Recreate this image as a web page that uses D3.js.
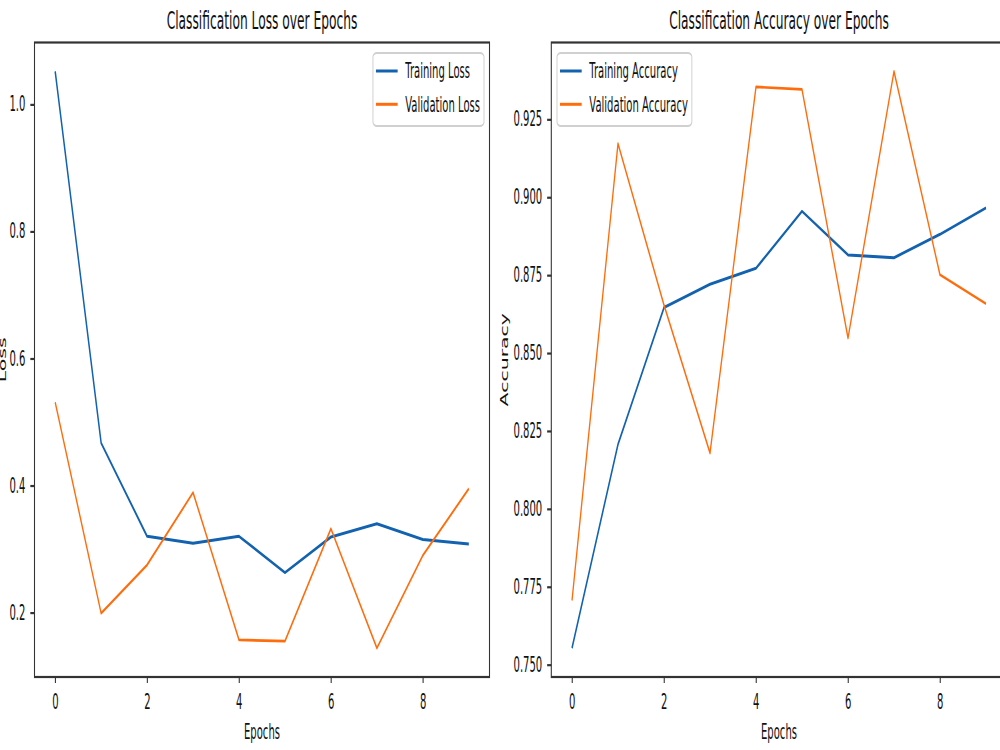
<!DOCTYPE html>
<html>
<head>
<meta charset="utf-8">
<title></title>
<script src="https://cdn.jsdelivr.net/npm/d3@7"></script>
<style>
  body { margin: 0; background: #fff; }
  svg { display: block; overflow: hidden; background: #fff; }
  text { font-family: "DejaVu Sans", sans-serif; fill: #111; }
</style>
</head>
<body>
<svg id="chart" width="1000" height="750"></svg>
<script>
// data
var epochs = [0, 1, 2, 3, 4, 5, 6, 7, 8, 9];
var trainLoss = [1.052, 0.467, 0.320, 0.309, 0.320, 0.263, 0.319, 0.340, 0.315, 0.308];
var valLoss   = [0.531, 0.199, 0.275, 0.389, 0.157, 0.155, 0.332, 0.144, 0.290, 0.395];
var trainAcc  = [0.7553, 0.8207, 0.8646, 0.8721, 0.8772, 0.8955, 0.8815, 0.8806, 0.8881, 0.8966];
var valAcc    = [0.7706, 0.9172, 0.8654, 0.8179, 0.9354, 0.9346, 0.8548, 0.9404, 0.8751, 0.8658];
var xTicks    = [0, 2, 4, 6, 8];
var lossTicks = [0.2, 0.4, 0.6, 0.8, 1.0];
var accTicks  = [0.750, 0.775, 0.800, 0.825, 0.850, 0.875, 0.900, 0.925];

var BLUE = "#1262b0", ORANGE = "#ff6c0c";

// the whole figure looks squeezed horizontally, so draw in wide units and scale x
var s = 0.49;
var axTop = 42.5, axBottom = 677;

var panels = [
  { title: "Classification Loss over Epochs", ylabel: "Loss", left: 34.5, right: 489.5,
    series: [trainLoss, valLoss], names: ["Training Loss", "Validation Loss"],
    ticks: lossTicks, fmt: ".1f", legendSide: "right", ylabelX: 5.5 },
  { title: "Classification Accuracy over Epochs", ylabel: "Accuracy", left: 551.3, right: 1006.7,
    series: [trainAcc, valAcc], names: ["Training Accuracy", "Validation Accuracy"],
    ticks: accTicks, fmt: ".3f", legendSide: "left", ylabelX: 508 }
];

var root = d3.select("#chart").append("g").attr("transform", "scale(" + s + ",1)");

panels.forEach(function(p) {
  var w = (p.right - p.left) / s, h = axBottom - axTop;
  var g = root.append("g").attr("transform", "translate(" + (p.left / s) + "," + axTop + ")");

  var x = d3.scaleLinear().domain([-0.45, 9.45]).range([0, w]);
  var all = p.series[0].concat(p.series[1]);
  var lo = d3.min(all), hi = d3.max(all), pad = (hi - lo) * 0.05;
  var y = d3.scaleLinear().domain([lo - pad, hi + pad]).range([h, 0]);

  var xaxis = d3.axisBottom(x).tickValues(xTicks).tickFormat(d3.format("d"))
    .tickSize(6).tickPadding(11);
  var yaxis = d3.axisLeft(y).tickValues(p.ticks).tickFormat(d3.format(p.fmt))
    .tickSize(8.5).tickPadding(10);

  g.append("g").attr("transform", "translate(0," + h + ")").call(customAxis, xaxis);
  g.append("g").call(customAxis, yaxis);

  var line = d3.line()
    .x(function(d, i) { return x(epochs[i]); })
    .y(function(d) { return y(d); });

  g.append("path").datum(p.series[0])
    .attr("d", line).attr("fill", "none")
    .attr("stroke", BLUE).attr("stroke-width", 3).attr("stroke-linejoin", "round");
  g.append("path").datum(p.series[1])
    .attr("d", line).attr("fill", "none")
    .attr("stroke", ORANGE).attr("stroke-width", 2.7).attr("stroke-linejoin", "round");

  // spines
  g.append("rect").attr("width", w).attr("height", h)
    .attr("fill", "none").attr("stroke", "#333").attr("stroke-width", 2.2);

  g.append("text").attr("x", w / 2).attr("y", 29.3 - axTop)
    .attr("text-anchor", "middle").style("font-size", "25px").text(p.title);
  g.append("text").attr("x", w / 2).attr("y", 739 - axTop)
    .attr("text-anchor", "middle").style("font-size", "20.5px").text("Epochs");
  g.append("text")
    .attr("transform", "translate(" + ((p.ylabelX - p.left) / s) + "," + (h / 2) + ") rotate(-90)")
    .attr("text-anchor", "middle").style("font-size", "20.5px").text(p.ylabel);

  // legend
  var leg = g.append("g");
  var box = leg.append("rect");
  var colors = [BLUE, ORANGE], rowY = [18, 51.3], maxLen = 0;
  var lineX0 = 3 / s, lineX1 = 24.7 / s, textX = 32.3 / s;
  p.names.forEach(function(n, i) {
    leg.append("line").attr("x1", lineX0).attr("x2", lineX1)
      .attr("y1", rowY[i]).attr("y2", rowY[i])
      .attr("stroke", colors[i]).attr("stroke-width", 3);
    var t = leg.append("text").attr("x", textX).attr("y", rowY[i]).attr("dy", "0.36em")
      .style("font-size", "20.5px").text(n);
    maxLen = Math.max(maxLen, t.node().getComputedTextLength());
  });
  var bw = textX + maxLen + 4 / s, bh = 73;
  box.attr("width", bw).attr("height", bh)
    .attr("rx", 4 / s).attr("ry", 4)
    .attr("fill", "#fff").attr("fill-opacity", 0.8)
    .attr("stroke", "#d0d0d0").attr("stroke-width", 2);
  var lx = p.legendSide === "right" ? w - 5.5 / s - bw : 5.7 / s;
  leg.attr("transform", "translate(" + lx + ",10.5)");
});

function customAxis(g, axis) {
  g.call(axis);
  g.select(".domain").remove();
  g.selectAll(".tick line").attr("stroke", "#333").attr("stroke-width", 2.2);
  g.selectAll(".tick text").style("font-size", "20.5px").attr("fill", "#111")
    .style("font-family", "DejaVu Sans");
}
</script>
</body>
</html>
